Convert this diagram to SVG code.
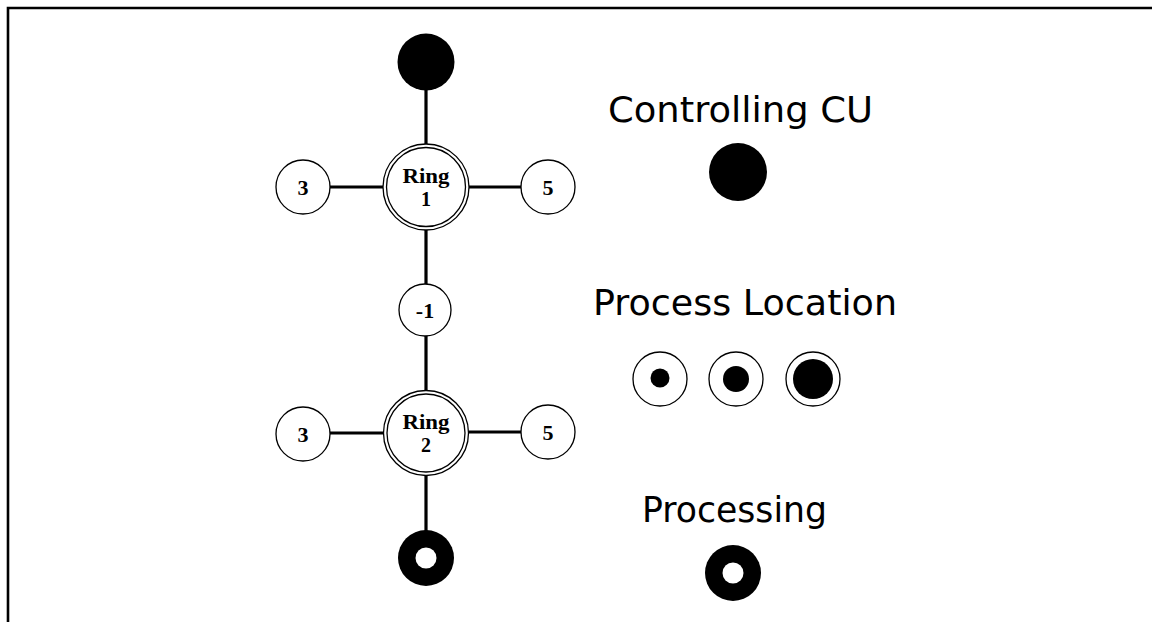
<svg xmlns="http://www.w3.org/2000/svg" width="1152" height="622" viewBox="0 0 1152 622">
  <style>
    .edge { stroke: #000; stroke-width: 3.2; fill: none; }
    .node { fill: #fff; stroke: #000; stroke-width: 1.3; }
    .solid { fill: #000; }
    .num { font-family: "Liberation Serif", "DejaVu Serif", serif; font-weight: bold; font-size: 22px; text-anchor: middle; fill: #000; }
    .ring { font-family: "Liberation Serif", "DejaVu Serif", serif; font-weight: bold; font-size: 20px; text-anchor: middle; fill: #000; }
    .title { font-family: "DejaVu Sans", "Liberation Sans", sans-serif; font-size: 35px; fill: #000; }
  </style>

  <rect width="1152" height="622" fill="#fff"/>
  <!-- frame: top and left rules -->
  <path d="M8 622 V8 H1152" stroke="#000" stroke-width="2.6" fill="none"/>

  <!-- connectors -->
  <g id="connectors">
    <line class="edge" x1="426" y1="88" x2="426" y2="144"/>
    <line class="edge" x1="426" y1="230" x2="426" y2="284"/>
    <line class="edge" x1="426" y1="336" x2="426" y2="391"/>
    <line class="edge" x1="426" y1="475" x2="426" y2="532"/>
    <line class="edge" x1="330" y1="187" x2="383" y2="187"/>
    <line class="edge" x1="469" y1="187" x2="521" y2="187"/>
    <line class="edge" x1="330" y1="433" x2="383" y2="433"/>
    <line class="edge" x1="469" y1="432" x2="521" y2="432"/>
  </g>

  <g id="cu-top">
    <circle class="solid" cx="426" cy="62" r="28.5"/>
  </g>

  <g id="ring1">
    <circle class="node" cx="426" cy="187" r="43"/>
    <circle class="node" cx="426" cy="187" r="39.5"/>
    <text class="ring" x="426" y="183" textLength="47" lengthAdjust="spacingAndGlyphs">Ring</text>
    <text class="ring" x="426" y="206">1</text>
  </g>
  <g id="r1-left">
    <circle class="node" cx="303" cy="187" r="27"/>
    <text class="num" x="303" y="195">3</text>
  </g>
  <g id="r1-right">
    <circle class="node" cx="548" cy="187" r="27"/>
    <text class="num" x="548" y="195">5</text>
  </g>

  <g id="link">
    <circle class="node" cx="425" cy="310" r="26"/>
    <text class="num" x="425" y="318">-1</text>
  </g>

  <g id="ring2">
    <circle class="node" cx="426" cy="433" r="42.5"/>
    <circle class="node" cx="426" cy="433" r="39"/>
    <text class="ring" x="426" y="429" textLength="47" lengthAdjust="spacingAndGlyphs">Ring</text>
    <text class="ring" x="426" y="452">2</text>
  </g>
  <g id="r2-left">
    <circle class="node" cx="303" cy="434" r="27"/>
    <text class="num" x="303" y="442">3</text>
  </g>
  <g id="r2-right">
    <circle class="node" cx="548" cy="432" r="27"/>
    <text class="num" x="548" y="440">5</text>
  </g>

  <g id="processing-bottom">
    <circle class="solid" cx="426" cy="558" r="28"/>
    <circle fill="#fff" cx="426" cy="558" r="10.5"/>
  </g>

  <!-- legend -->
  <g id="legend-cu">
    <text class="title" x="608" y="122" textLength="265" lengthAdjust="spacingAndGlyphs">Controlling  CU</text>
    <circle class="solid" cx="738" cy="172" r="29"/>
  </g>

  <g id="legend-location">
    <text class="title" x="593" y="315" textLength="304" lengthAdjust="spacingAndGlyphs">Process  Location</text>
    <circle class="node" cx="660" cy="379" r="27"/>
    <circle class="solid" cx="660" cy="378" r="9.5"/>
    <circle class="node" cx="736" cy="379" r="27"/>
    <circle class="solid" cx="736" cy="379" r="13"/>
    <circle class="node" cx="813" cy="379" r="27"/>
    <circle class="solid" cx="813" cy="379" r="20"/>
  </g>

  <g id="legend-processing">
    <text class="title" x="642" y="522" textLength="185" lengthAdjust="spacingAndGlyphs">Processing</text>
    <circle class="solid" cx="733" cy="573" r="28"/>
    <circle fill="#fff" cx="733" cy="573" r="10.5"/>
  </g>
</svg>
